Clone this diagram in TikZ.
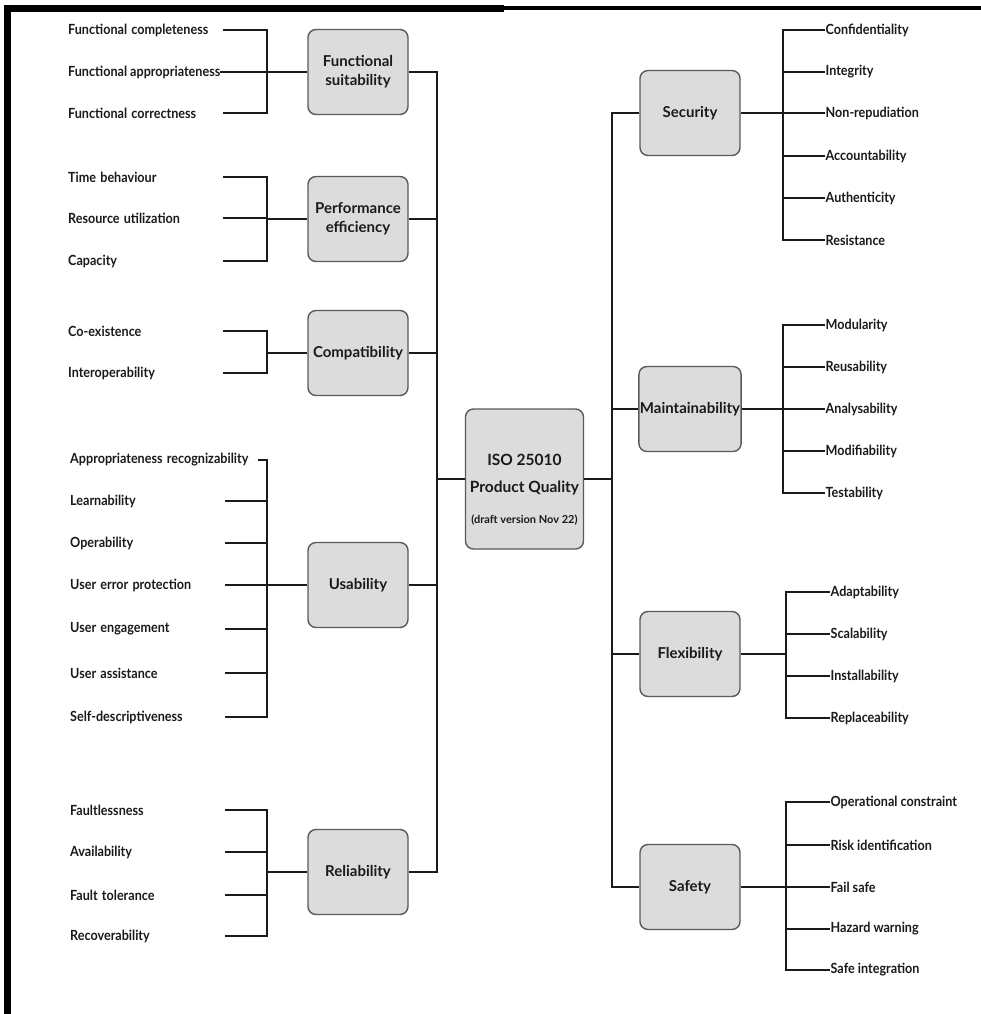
\documentclass[tikz,border=0pt]{standalone}
\usepackage{fontspec}
\setmainfont{Lato}
\definecolor{ink}{HTML}{1A1A1A}
\definecolor{boxfill}{HTML}{DCDCDC}
\definecolor{boxline}{HTML}{5A5A5A}
\begin{document}
\begin{tikzpicture}[x=1pt,y=-1pt,
  cat/.style={draw=boxline, fill=boxfill, rounded corners=8pt, line width=1.4pt,
    minimum width=100pt, minimum height=85pt, align=center, inner sep=1pt,
    text=ink, font=\fontsize{15}{19}\selectfont\bfseries},
  core/.style={cat, minimum width=118pt, minimum height=140pt},
  itemfont/.style={text=ink, xscale=0.9, font=\fontsize{14}{16}\selectfont\bfseries},
  litem/.style={itemfont, anchor=west, inner sep=0pt, text width=172pt, align=left},
  lfree/.style={itemfont, anchor=west, inner sep=0pt},
  ritem/.style={itemfont, anchor=west, inner sep=0.5pt},
  twig/.style={draw=ink, line width=1.9pt},
  stem/.style={draw=ink, line width=2.8pt},
  trunk/.style={draw=ink, line width=1.7pt}]

\useasboundingbox (0,0) rectangle (981,1014);
\fill[white] (0,0) rectangle (981,1014);

% frame
\fill[black] (4,5) rectangle (11,1014);
\fill[black] (4,5) rectangle (504,12);
\fill[black] (504,6) rectangle (981,10);

% trunk positions and bracket columns
\coordinate (lt) at (437,0);
\coordinate (rt) at (612,0);
\coordinate (lb) at (267,0);
\coordinate (rb1) at (783,0);
\coordinate (rb2) at (786,0);

% central node
\node[core] (iso) at (524.5,479) {};
\node[align=center, text=ink, font=\fontsize{15.5}{19}\selectfont\bfseries] (isotext) at (524.5,490)
  {ISO 25010\\[8pt]Product Quality\\[12pt]{\fontsize{11}{13}\selectfont (draft version Nov 22)}};

% ---------- left categories ----------
\node[cat] (fs)  at (358,72)  {Functional\\suitability};
\node[cat] (pe)  at (358,219) {Performance\\efficiency};
\node[cat] (com) at (358,353) {Compatibility};
\node[cat] (us)  at (358,585) {Usability};
\node[cat] (rel) at (358,872) {Reliability};

% functional suitability
\node[litem] (fs1) at (68,30)  {Functional completeness};
\node[lfree] (fs2) at (68,72)  {Functional appropriateness};
\node[litem] (fs3) at (68,113) {Functional correctness};
\draw[twig] (fs1.east) -- (fs1.east -| lb) -- (fs3.east -| lb) -- (fs3.east);
\draw[stem] (fs2.east) -- (fs.west);

% performance efficiency
\node[litem] (pe1) at (68,177) {Time behaviour};
\node[litem] (pe2) at (68,218) {Resource utilization};
\node[litem] (pe3) at (68,261) {Capacity};
\draw[twig] (pe1.east) -- (pe1.east -| lb) -- (pe3.east -| lb) -- (pe3.east);
\draw[twig] (pe2.east) -- (pe2.east -| lb);
\draw[stem] (pe.west -| lb) -- (pe.west);

% compatibility
\node[litem] (co1) at (68,331) {Co-existence};
\node[litem] (co2) at (68,373) {Interoperability};
\draw[twig] (co1.east) -- (co1.east -| lb) -- (co2.east -| lb) -- (co2.east);
\draw[stem] (com.west -| lb) -- (com.west);

% usability
\node[litem, text width=209pt] (us1) at (70,460) {Appropriateness recognizability};
\node[litem] (us2) at (70,501) {Learnability};
\node[litem] (us3) at (70,543) {Operability};
\node[litem] (us4) at (70,585) {User error protection};
\node[litem] (us5) at (70,629) {User engagement};
\node[litem] (us6) at (70,673) {User assistance};
\node[litem] (us7) at (70,717) {Self-descriptiveness};
\draw[twig] (us1.east) -- (us1.east -| lb) -- (us7.east -| lb) -- (us7.east);
\foreach \n in {us2,us3,us4,us5,us6} \draw[twig] (\n.east) -- (\n.east -| lb);
\draw[stem] (us.west -| lb) -- (us.west);

% reliability
\node[litem] (re1) at (70,810) {Faultlessness};
\node[litem] (re2) at (70,852) {Availability};
\node[litem] (re3) at (70,895) {Fault tolerance};
\node[litem] (re4) at (70,936) {Recoverability};
\draw[twig] (re1.east) -- (re1.east -| lb) -- (re4.east -| lb) -- (re4.east);
\foreach \n in {re2,re3} \draw[twig] (\n.east) -- (\n.east -| lb);
\draw[stem] (rel.west -| lb) -- (rel.west);

% left trunk
\draw[trunk] (fs.east) -| (lt |- rel.east) -- (rel.east);
\foreach \n in {pe,com,us} \draw[trunk] (\n.east) -- (\n.east -| lt);
\draw[trunk] (iso.west) -- (iso.west -| lt);

% ---------- right categories ----------
\node[cat] (sec) at (690,113) {Security};
\node[cat] (mai) at (690,409) {Maintainability};
\node[cat] (fle) at (690,654) {Flexibility};
\node[cat] (saf) at (690,887) {Safety};

% security
\node[ritem] (se1) at (825,30)  {Confidentiality};
\node[ritem] (se2) at (825,72)  {Integrity};
\node[ritem] (se3) at (825,113) {Non-repudiation};
\node[ritem] (se4) at (825,156) {Accountability};
\node[ritem] (se5) at (825,198) {Authenticity};
\node[ritem] (se6) at (825,240) {Resistance};
\draw[twig] (se1.west) -- (se1.west -| rb1) -- (se6.west -| rb1) -- (se6.west);
\foreach \n in {se2,se3,se4,se5} \draw[twig] (\n.west -| rb1) -- (\n.west);
\draw[stem] (sec.east) -- (sec.east -| rb1);

% maintainability
\node[ritem] (ma1) at (825,325) {Modularity};
\node[ritem] (ma2) at (825,367) {Reusability};
\node[ritem] (ma3) at (825,409) {Analysability};
\node[ritem] (ma4) at (825,451) {Modifiability};
\node[ritem] (ma5) at (825,493) {Testability};
\draw[twig] (ma1.west) -- (ma1.west -| rb1) -- (ma5.west -| rb1) -- (ma5.west);
\foreach \n in {ma2,ma3,ma4} \draw[twig] (\n.west -| rb1) -- (\n.west);
\draw[stem] (mai.east) -- (mai.east -| rb1);

% flexibility
\node[ritem] (fl1) at (830,592) {Adaptability};
\node[ritem] (fl2) at (830,634) {Scalability};
\node[ritem] (fl3) at (830,676) {Installability};
\node[ritem] (fl4) at (830,718) {Replaceability};
\draw[twig] (fl1.west) -- (fl1.west -| rb2) -- (fl4.west -| rb2) -- (fl4.west);
\foreach \n in {fl2,fl3} \draw[twig] (\n.west -| rb2) -- (\n.west);
\draw[stem] (fle.east) -- (fle.east -| rb2);

% safety
\node[ritem] (sa1) at (830,802) {Operational constraint};
\node[ritem] (sa2) at (830,845) {Risk identification};
\node[ritem] (sa3) at (830,887) {Fail safe};
\node[ritem] (sa4) at (830,929) {Hazard warning};
\node[ritem] (sa5) at (830,970) {Safe integration};
\draw[twig] (sa1.west) -- (sa1.west -| rb2) -- (sa5.west -| rb2) -- (sa5.west);
\foreach \n in {sa2,sa3,sa4} \draw[twig] (\n.west -| rb2) -- (\n.west);
\draw[stem] (saf.east) -- (saf.east -| rb2);

% right trunk
\draw[trunk] (sec.west) -| (rt |- saf.west) -- (saf.west);
\foreach \n in {mai,fle} \draw[trunk] (\n.west) -- (\n.west -| rt);
\draw[trunk] (iso.east) -- (iso.east -| rt);

\end{tikzpicture}
\end{document}
